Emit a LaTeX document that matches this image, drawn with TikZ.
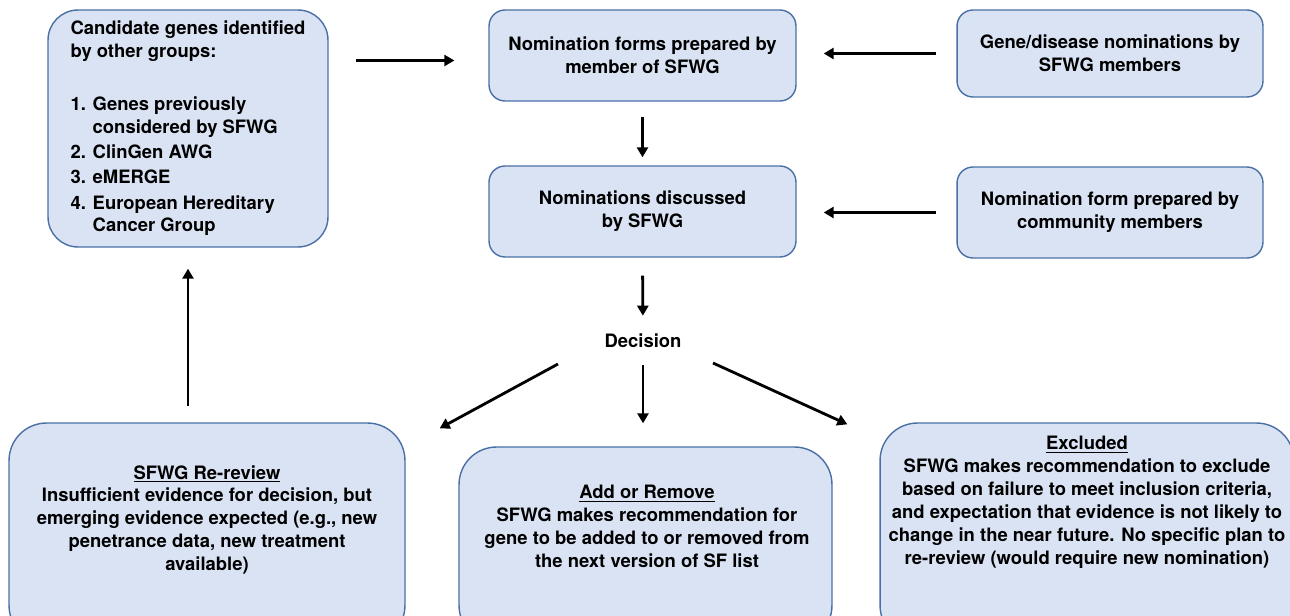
\documentclass[tikz,border=0pt]{standalone}
\usepackage{fontspec}
\setmainfont{TeX Gyre Heros}
\usepackage{tikz}
\usetikzlibrary{shapes, arrows.meta, positioning}
\definecolor{boxfill}{HTML}{DAE3F3}
\definecolor{boxline}{HTML}{4A6FA5}

\begin{document}
\begin{tikzpicture}[x=0.02cm, y=-0.02cm,
  txt/.style={font=\fontsize{10.5}{13}\selectfont\bfseries, align=center, inner sep=0pt},
  smallbox/.style={txt, draw=boxline, fill=boxfill, line width=0.8pt, rounded corners=0.32cm},
  bigbox/.style={draw=boxline, fill=boxfill, line width=0.8pt, rounded corners=0.75cm, inner sep=0pt},
  arr/.style={line width=1.6pt, -{Triangle[length=0.2cm, width=0.22cm]}}]
\useasboundingbox (0,0) rectangle (1290,615);
\clip (0,0) rectangle (1290,615);

\node[smallbox, rounded corners=0.6cm, align=left, minimum width=5.6cm, minimum height=4.74cm] (cand) at (188,128.5)
  {Candidate genes identified\\by other groups:\\[17pt]
   \makebox[1.2em][l]{1.}Genes previously\\\hspace*{1.2em}considered by SFWG\\[1.4pt]
   \makebox[1.2em][l]{2.}ClinGen AWG\\[1.4pt]
   \makebox[1.2em][l]{3.}eMERGE\\[1.4pt]
   \makebox[1.2em][l]{4.}European Hereditary\\\hspace*{1.2em}Cancer Group};
\node[smallbox, minimum width=6.14cm, minimum height=1.82cm] (nomform) at (642.5,55.5) {Nomination forms prepared by\\member of SFWG};
\node[smallbox, minimum width=6.12cm, minimum height=1.74cm] (genedis) at (1110,53.5) {Gene/disease nominations by\\SFWG members};
\node[smallbox, minimum width=6.14cm, minimum height=1.82cm] (nomdisc) at (642.5,211.5) {Nominations discussed\\by SFWG};
\node[smallbox, minimum width=6.12cm, minimum height=1.82cm] (commun) at (1110,212.5) {Nomination form prepared by\\community members};
\node[txt] (decision) at (643,341) {Decision};

% outcome boxes, cut off at the bottom edge
\node[bigbox, minimum width=7.92cm, minimum height=4.4cm] (rerev) at (207,533) {};
\node[bigbox, minimum width=7.46cm, minimum height=3.92cm] (addrem) at (645.5,545) {};
\node[bigbox, minimum width=8.28cm, minimum height=4.4cm] (excl) at (1087,533) {};
\node[txt, anchor=north] (rerevtxt) at (207,465) {\underline{SFWG Re-review}\\Insufficient evidence for decision, but\\emerging evidence expected (e.g., new\\penetrance data, new treatment\\available)};
\node[txt, anchor=north] (addremtxt) at (647,485) {\underline{Add or Remove}\\SFWG makes recommendation for\\gene to be added to or removed from\\the next version of SF list};
\node[txt, anchor=north] (excltxt) at (1087,436) {\underline{Excluded}\\SFWG makes recommendation to exclude\\based on failure to meet inclusion criteria,\\and expectation that evidence is not likely to\\change in the near future. No specific plan to\\re-review (would require new nomination)};

\draw[arr, shorten <=0.54cm, shorten >=0.68cm] ([yshift=-0.1cm]cand.east |- nomform.west) -- ([yshift=-0.1cm]nomform.west);
\draw[arr, shorten <=0.4cm, shorten >=0.54cm] (genedis.west) -- (genedis.west -| nomform.east);
\draw[arr, shorten <=0.4cm, shorten >=0.54cm] (commun.west) -- (commun.west -| nomdisc.east);
\draw[arr, shorten <=0.3cm, shorten >=0.16cm] (nomform.south) -- (nomdisc.north);
\draw[arr, shorten <=0.36cm, shorten >=0.36cm] (nomdisc.south) -- (decision.north);
\draw[arr, shorten <=0.34cm, shorten >=0.46cm] (decision.south) -- (decision.south |- addrem.north);
\draw[arr] ([shift={(-85,23)}]decision.center) -- ([shift={(34,6)}]rerev.north east);
\draw[arr] ([shift={(70,22)}]decision.center) -- ([shift={(-32,2)}]excl.north west);
\draw[arr, shorten <=0.32cm, shorten >=0.42cm] (cand.south |- rerev.north) -- (cand.south);
\end{tikzpicture}
\end{document}
